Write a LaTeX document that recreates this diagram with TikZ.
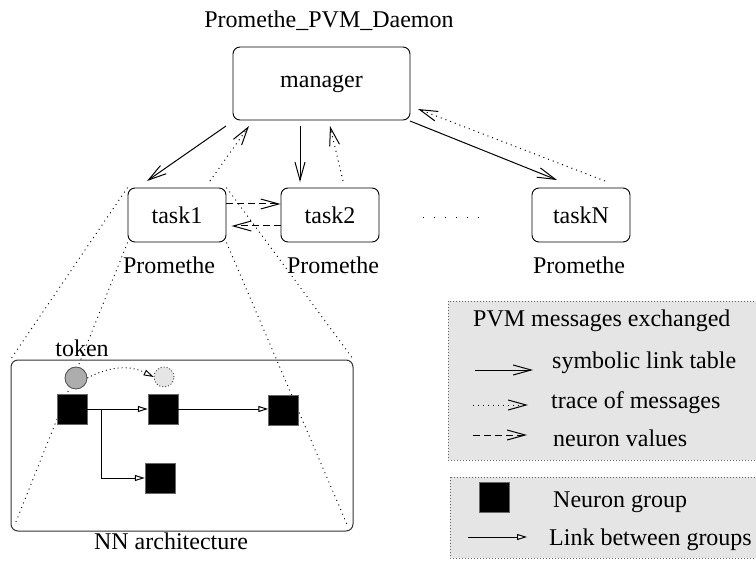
\documentclass[tikz,border=0pt]{standalone}
\usepackage{fontspec}
\setmainfont{Liberation Serif}
\usetikzlibrary{arrows.meta,calc}
\begin{document}
\begin{tikzpicture}[x=1pt,y=-1pt,
  font=\fontsize{24}{28}\selectfont,
  tbox/.style={draw,rounded corners=7pt,line width=0.9pt,inner sep=0pt},
  lbl/.style={anchor=base,inner sep=0pt},
  lblw/.style={anchor=base west,inner sep=0pt},
  sol/.style={line width=1pt,-{Straight Barb[length=18pt,width=10pt]}},
  dotar/.style={line width=1pt,dash pattern=on 1pt off 4pt,-{Straight Barb[length=18pt,width=10pt]}},
  dsh/.style={line width=1pt,dash pattern=on 7pt off 4pt,-{Straight Barb[length=18pt,width=10pt]}},
  proj/.style={line width=0.9pt,dash pattern=on 1pt off 4pt},
  neur/.style={fill=black,draw=black!60,minimum size=30pt,inner sep=0pt},
  lnk/.style={line width=1pt,-{Triangle[open,length=10pt,width=6pt,fill=white]}},
  legbox/.style={fill=black!10,draw=black!60,dash pattern=on 1pt off 2pt,line width=0.8pt}
]
\useasboundingbox (0,0) rectangle (756,567);

% title
\node[lbl] (title) at (329,28) {Promethe\_PVM\_Daemon};

% boxes
\node[tbox,minimum width=177pt,minimum height=73pt] (manager) at (321.5,83.5) {manager};
\node[tbox,minimum width=98pt,minimum height=54pt] (task1) at (177,215) {task1};
\node[tbox,minimum width=98pt,minimum height=54pt] (task2) at (330,215) {task2};
\node[tbox,minimum width=98pt,minimum height=54pt] (taskN) at (581,215) {taskN};

\node[lbl] (p1) at (169,273) {Promethe};
\node[lbl] (p2) at (333,273) {Promethe};
\node[lbl] (pN) at (579,273) {Promethe};

% dots between task2 and taskN
\coordinate (d1) at (423,218);
\coordinate (d2) at (489,218);
\draw[line width=1pt,dash pattern=on 1pt off 10pt] (d1) -- (d2);

% manager <-> tasks
\coordinate (m1a) at (226,126); \coordinate (t1a) at (147,181);
\coordinate (t1b) at (210,181); \coordinate (m1b) at (249,126);
\coordinate (m2a) at (300,126); \coordinate (t2a) at (300,182);
\coordinate (t2b) at (343,181); \coordinate (m2b) at (330,126);
\coordinate (mNa) at (410,121); \coordinate (tNa) at (557,180);
\coordinate (tNb) at (605,181); \coordinate (mNb) at (418,109);
\draw[sol] (m1a) -- (t1a);
\draw[dotar] (t1b) -- (m1b);
\draw[sol] (m2a) -- (t2a);
\draw[dotar] (t2b) -- (m2b);
\draw[sol] (mNa) -- (tNa);
\draw[dotar] (tNb) -- (mNb);

% task1 <-> task2 dashed
\draw[dsh] (task1.east |- 0,204) -- (task2.west |- 0,204);
\draw[dsh] (task2.west |- 0,226) -- ([xshift=5pt]task1.east |- 0,226);

% NN architecture box
\node[draw=black!80,line width=1pt,rounded corners=7pt,minimum width=342pt,minimum height=171pt,inner sep=0pt] (nn) at (182,445.5) {};
\node[lbl] (nnl) at (171,549) {NN architecture};

% projection lines
\draw[proj] (task1.north west) -- (nn.north west);
\draw[proj] (task1.south west) -- ([xshift=4pt,yshift=6pt]nn.south west);
\draw[proj] (task1.north east) -- (nn.north east);
\draw[proj] (task1.south east) -- ([xshift=-6pt,yshift=6pt]nn.south east);

% token
\node[lbl] (tokl) at (82,356) {token};
\node[circle,draw=black!70,fill=black!32,minimum size=22pt,inner sep=0pt,line width=0.8pt] (tok) at (76,378) {};
\node[circle,draw=black!80,fill=black!10,minimum size=20pt,inner sep=0pt,line width=0.8pt,dash pattern=on 1pt off 2pt] (tok2) at (164,377) {};
\draw[line width=0.9pt,dash pattern=on 1pt off 3pt,-{Triangle[open,length=10pt,width=6pt,fill=white]}] (tok.east) .. controls (110,366) and (130,365) .. (tok2.west);

% neurons
\node[neur] (n1) at (72,409) {};
\node[neur] (n2) at (163,409) {};
\node[neur] (n3) at (283.5,410) {};
\node[neur] (n4) at (160,478) {};
\coordinate (br) at (101,409);
\draw[lnk] (n1.east) -- (n2.west);
\draw[lnk] (n2.east) -- (n3.west |- n2.east);
\draw[lnk] (br) |- (n4.west);

% legend 1
\path[legbox] (448,301) rectangle (760,460);
\node[lblw] (lg0) at (473,326) {PVM messages exchanged};
\coordinate (ls1) at (475,370); \coordinate (le1) at (533,370);
\coordinate (ls2) at (473,405); \coordinate (le2) at (528,405);
\coordinate (ls3) at (473,435); \coordinate (le3) at (527,435);
\draw[sol] (ls1) -- (le1);
\draw[dotar] (ls2) -- (le2);
\draw[dsh] (ls3) -- (le3);
\node[lblw] (lg1) at (552,368) {symbolic link table};
\node[lblw] (lg2) at (551,408) {trace of messages};
\node[lblw] (lg3) at (553,446) {neuron values};

% legend 2
\path[legbox] (450,477) rectangle (760,558);
\node[neur] (lsq) at (494,497) {};
\node[lblw] (lg4) at (553,507) {Neuron group};
\coordinate (ls4) at (468,537); \coordinate (le4) at (527,537);
\draw[lnk] (ls4) -- (le4);
\node[lblw] (lg5) at (549,545) {Link between groups};
\end{tikzpicture}
\end{document}
